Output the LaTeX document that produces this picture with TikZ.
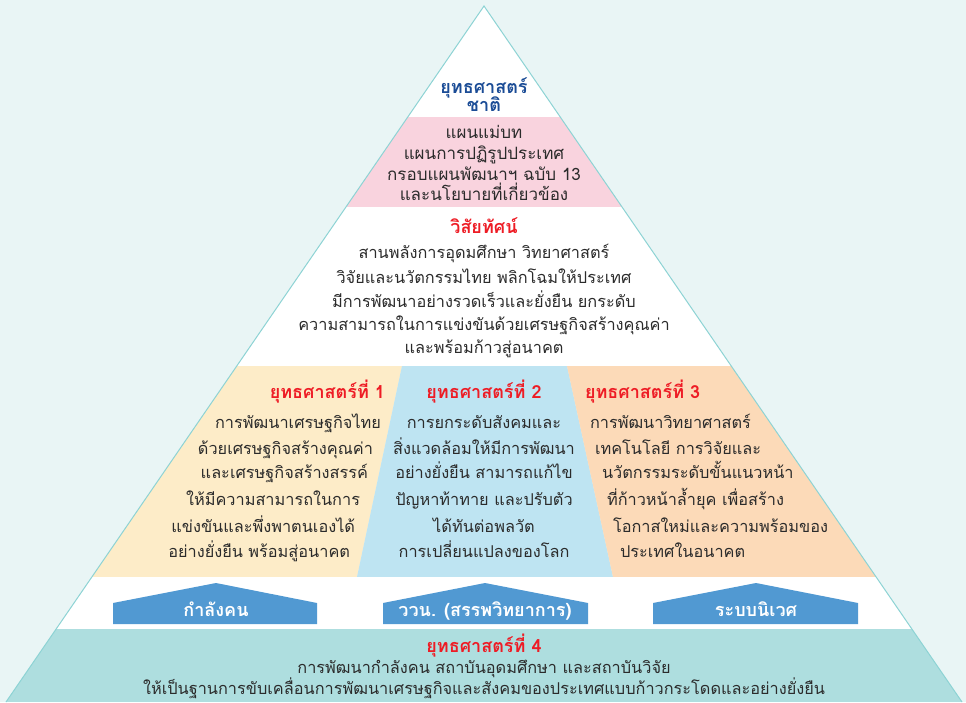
\documentclass[tikz,border=0pt]{standalone}
\usepackage{fontspec}
\newfontfamily\thai[Script=Thai]{Loma}
\definecolor{bgc}{HTML}{E9F5F5}
\definecolor{edgec}{HTML}{8DD3D4}
\definecolor{pinkc}{HTML}{F9D3DE}
\definecolor{yelc}{HTML}{FDECC8}
\definecolor{bluc}{HTML}{BEE4F2}
\definecolor{orac}{HTML}{FCDAB8}
\definecolor{tealc}{HTML}{AEDEDF}
\definecolor{arrc}{HTML}{5199D2}
\definecolor{redc}{HTML}{EE1C25}
\definecolor{dbluc}{HTML}{1B4C96}
\definecolor{txtc}{HTML}{2B2B2B}
\begin{document}
\begin{tikzpicture}[x=1pt,y=-1pt,
  every node/.style={inner sep=0pt,outer sep=0pt},
  body/.style={font=\thai\fontsize{16.3}{16.3}\selectfont, text=txtc, anchor=base},
  pinkt/.style={font=\thai\fontsize{17}{17}\selectfont, text=txtc, anchor=base},
  redt/.style={font=\thai\bfseries\fontsize{18}{18}\selectfont, text=redc, anchor=base},
  bluet/.style={font=\thai\bfseries\fontsize{18}{18}\selectfont, text=dbluc, anchor=base},
  arrt/.style={font=\thai\bfseries\fontsize{18}{18}\selectfont, text=white, anchor=base},
  house/.style={fill=arrc},
  edge/.style={draw=edgec, line width=1pt}
]
\fill[bgc] (0,0) rectangle (966,702);
\useasboundingbox (0,0) rectangle (966,702);
\begin{scope}
\clip (484,6) -- (962,702) -- (6,702) -- cycle;
\fill[white] (0,0) rectangle (966,117);
\fill[pinkc] (0,117) rectangle (966,207);
\fill[white] (0,207) rectangle (966,366);
\fill[yelc] (0,366) -- (402,366) -- (357,577) -- (0,577) -- cycle;
\fill[bluc] (402,366) -- (567,366) -- (613,577) -- (357,577) -- cycle;
\fill[orac] (567,366) -- (966,366) -- (966,577) -- (613,577) -- cycle;
\fill[white] (0,577) rectangle (966,629);
\fill[tealc] (0,629) rectangle (966,702);
\end{scope}
\coordinate (apex) at (484,6);
\coordinate (bl) at (6,702);
\coordinate (br) at (962,702);
\draw[edge] (bl) -- (apex) -- (br);

% top
\node[bluet] (t1) at (484,93) {ยุทธศาสตร์};
\node[bluet] (t2) at (484,111) {ชาติ};
% pink
\node[pinkt] (p1) at (484,138) {แผนแม่บท};
\node[pinkt] (p2) at (484,159) {แผนการปฏิรูปประเทศ};
\node[pinkt] (p3) at (484,180) {กรอบแผนพัฒนาฯ ฉบับ 13};
\node[pinkt] (p4) at (484,200) {และนโยบายที่เกี่ยวข้อง};
% vision
\node[redt] (v0) at (484,233) {วิสัยทัศน์};
\node[body] (v1) at (484,258) {สานพลังการอุดมศึกษา วิทยาศาสตร์};
\node[body] (v2) at (484,283) {วิจัยและนวัตกรรมไทย พลิกโฉมให้ประเทศ};
\node[body] (v3) at (484,307) {มีการพัฒนาอย่างรวดเร็วและยั่งยืน ยกระดับ};
\node[body] (v4) at (484,330) {ความสามารถในการแข่งขันด้วยเศรษฐกิจสร้างคุณค่า};
\node[body] (v5) at (484,353) {และพร้อมก้าวสู่อนาคต};
% strategy 1
\node[redt, anchor=base east] (a0) at (385,398) {ยุทธศาสตร์ที่ 1};
\node[body, anchor=base east] (a1) at (381,428) {การพัฒนาเศรษฐกิจไทย};
\node[body, anchor=base east] (a2) at (373,454) {ด้วยเศรษฐกิจสร้างคุณค่า};
\node[body, anchor=base east] (a3) at (368,478) {และเศรษฐกิจสร้างสรรค์};
\node[body, anchor=base east] (a4) at (360,505) {ให้มีความสามารถในการ};
\node[body, anchor=base east] (a5) at (355,532) {แข่งขันและพึ่งพาตนเองได้};
\node[body, anchor=base east] (a6) at (350,557) {อย่างยั่งยืน พร้อมสู่อนาคต};
% strategy 2
\node[redt] (b0) at (484,398) {ยุทธศาสตร์ที่ 2};
\node[body] (b1) at (484,428) {การยกระดับสังคมและ};
\node[body] (b2) at (484,454) {สิ่งแวดล้อมให้มีการพัฒนา};
\node[body] (b3) at (484,478) {อย่างยั่งยืน สามารถแก้ไข};
\node[body] (b4) at (484,505) {ปัญหาท้าทาย และปรับตัว};
\node[body] (b5) at (484,532) {ได้ทันต่อพลวัต};
\node[body] (b6) at (484,557) {การเปลี่ยนแปลงของโลก};
% strategy 3
\node[redt, anchor=base west] (c0) at (585,398) {ยุทธศาสตร์ที่ 3};
\node[body, anchor=base west] (c1) at (590,428) {การพัฒนาวิทยาศาสตร์};
\node[body, anchor=base west] (c2) at (595,454) {เทคโนโลยี การวิจัยและ};
\node[body, anchor=base west] (c3) at (602,478) {นวัตกรรมระดับขั้นแนวหน้า};
\node[body, anchor=base west] (c4) at (607,505) {ที่ก้าวหน้าล้ำยุค เพื่อสร้าง};
\node[body, anchor=base west] (c5) at (613,532) {โอกาสใหม่และความพร้อมของ};
\node[body, anchor=base west] (c6) at (620,557) {ประเทศในอนาคต};
% arrows
\fill[house] (113,624) -- (113,603) -- (216,583) -- (317,603) -- (317,624) -- cycle;
\fill[house] (383,624) -- (383,603) -- (485,583) -- (588,603) -- (588,624) -- cycle;
\fill[house] (653,624) -- (653,603) -- (756,583) -- (858,603) -- (858,624) -- cycle;
\node[arrt] (h1) at (216,616) {กำลังคน};
\node[arrt] (h2) at (485,616) {ววน. (สรรพวิทยาการ)};
\node[arrt] (h3) at (756,616) {ระบบนิเวศ};
% strategy 4
\node[redt] (d0) at (484,652) {ยุทธศาสตร์ที่ 4};
\node[body] (d1) at (484,673) {การพัฒนากำลังคน สถาบันอุดมศึกษา และสถาบันวิจัย};
\node[body] (d2) at (484,694) {ให้เป็นฐานการขับเคลื่อนการพัฒนาเศรษฐกิจและสังคมของประเทศแบบก้าวกระโดดและอย่างยั่งยืน};
\end{tikzpicture}
\end{document}
